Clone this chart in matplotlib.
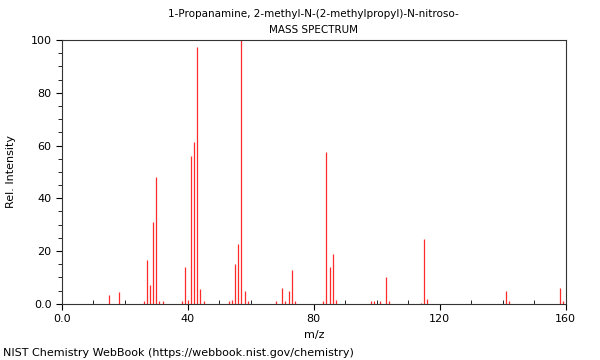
import matplotlib
matplotlib.use("Agg")
import matplotlib.pyplot as plt
from matplotlib.ticker import MultipleLocator, FuncFormatter

# peaks (m/z, relative intensity)
mz = [15, 18, 26, 27, 28, 29, 30, 31, 32, 38, 39, 40, 41, 42, 43, 44, 45,
      53, 54, 55, 56, 57, 58, 59, 68, 70, 71, 72, 73, 74, 83, 84, 85, 86, 87,
      98, 99, 101, 103, 104, 114, 115, 116, 141, 142, 158, 159]
intensity = [3.5, 4.5, 1, 16.5, 7, 31, 48, 1, 1, 1, 14, 1.5, 56, 61.5, 97.5, 5.5, 1,
             1, 1.5, 15, 22.5, 100, 5, 1, 1, 6, 1, 5, 13, 1, 1, 57.5, 14, 19, 1.5,
             1, 1, 1, 10, 1, 0.5, 24.5, 2, 5, 1, 6, 1]

title_lines = ["1-Propanamine, 2-methyl-N-(2-methylpropyl)-N-nitroso-", "MASS SPECTRUM"]

fig = plt.figure(figsize=(6, 3.6), dpi=100)
ax = fig.add_axes([0.103, 0.156, 0.84, 0.733])

ax.vlines(mz, 0, intensity, color="#ff2a2a", linewidth=0.9)

ax.set_xlim(0, 160)
ax.set_ylim(0, 100)
ax.xaxis.set_major_locator(MultipleLocator(40))
ax.xaxis.set_minor_locator(MultipleLocator(10))
ax.yaxis.set_major_locator(MultipleLocator(20))
ax.yaxis.set_minor_locator(MultipleLocator(5))
ax.xaxis.set_major_formatter(FuncFormatter(lambda v, p: "0.0" if v == 0 else "%d" % v))
ax.yaxis.set_major_formatter(FuncFormatter(lambda v, p: "0.0" if v == 0 else "%d" % v))

ax.tick_params(axis="both", which="major", labelsize=8, length=4, direction="out")
ax.tick_params(axis="x", which="minor", length=3, direction="in")
ax.tick_params(axis="y", which="minor", length=3, direction="out")

for s in ax.spines.values():
    s.set_linewidth(0.8)
    s.set_color("#333333")

ax.set_xlabel("m/z", fontsize=8)
ax.set_ylabel("Rel. Intensity", fontsize=8, labelpad=10)

fig.text(0.523, 0.962, title_lines[0], ha="center", va="center", fontsize=7.5)
fig.text(0.523, 0.917, title_lines[1], ha="center", va="center", fontsize=7.5)
fig.text(0.005, 0.02, "NIST Chemistry WebBook (https://webbook.nist.gov/chemistry)",
         ha="left", va="center", fontsize=8)

fig.savefig("out.png", dpi=100)
